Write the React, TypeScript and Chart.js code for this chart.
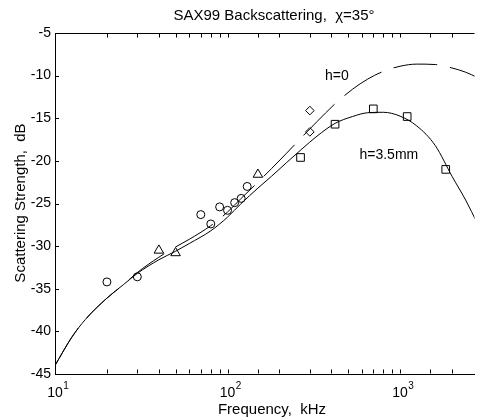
import { useEffect, useRef } from 'react';
import { Chart, registerables } from 'chart.js';

Chart.register(...registerables);

const FONT = "'Liberation Sans', Arial, sans-serif";

// model curves (frequency in kHz, scattering strength in dB)
const curveFreqs = [10, 12.5, 15, 20, 25, 30, 40, 50, 60, 80, 100, 120, 150, 180, 220, 270, 330, 420, 530, 650, 800, 1000, 1250, 1600, 2000, 2400, 2800];
const h35mm = [-44.0, -40.7, -38.6, -36.1, -34.5, -33.2, -31.6, -30.6, -29.7, -28.2, -26.6, -25.0, -23.2, -21.8, -20.2, -18.6, -17.1, -15.6, -14.8, -14.35, -14.3, -14.75, -15.9, -18.2, -21.8, -24.6, -27.3];
const h0 = [-44.0, -40.7, -38.6, -36.1, -34.5, -33.1, -31.3, -30.1, -29.2, -27.6, -26.0, -24.4, -22.5, -20.9, -19.1, -17.2, -15.4, -13.3, -11.6, -10.4, -9.5, -8.9, -8.65, -8.7, -9.1, -9.6, -10.2];

// measured data
const circleFreqs = [20, 30, 70, 80, 90, 100, 110, 120, 130];
const circleVals = [-34.2, -33.6, -26.3, -27.4, -25.4, -25.8, -24.9, -24.4, -23.0];
const triangleFreqs = [40, 50, 150];
const triangleVals = [-30.5, -30.8, -21.6];
const diamondFreqs = [300, 300];
const diamondVals = [-14.1, -16.6];
const squareFreqs = [265, 420, 700, 1100, 1840];
const squareVals = [-19.6, -15.7, -13.9, -14.8, -21.0];

// axis
const xMin = 10;
const xMax = 2701;
const yMin = -45;
const yMax = -5;
const xLabelTicks = [10, 100, 1000];
const xLabelExps = ['1', '2', '3'];

const titleText = 'SAX99 Backscattering,  \u03c7=35\u00b0';
const xTitle = 'Frequency,  kHz';
const yTitle = 'Scattering Strength,  dB';
const notes = [
  { text: 'h=0', x: 430, y: -10.1 },
  { text: 'h=3.5mm', x: 861, y: -19.3 },
];

const pts = (xs: number[], ys: number[]) => xs.map((x, i) => ({ x, y: ys[i] }));

const marker = (data: { x: number; y: number }[], style: string, r: number) => ({
  type: 'line' as const,
  data,
  showLine: false,
  pointStyle: style,
  pointRadius: r,
  pointHoverRadius: r,
  pointBorderColor: '#000',
  pointBackgroundColor: 'rgba(0,0,0,0)',
  pointBorderWidth: 1,
  borderColor: '#000',
});

const deco = {
  id: 'deco',
  afterDraw(chart: any) {
    const { ctx, chartArea: a, scales } = chart;
    const x = scales.x;
    const y = scales.y;
    ctx.save();
    ctx.strokeStyle = '#000';
    ctx.lineWidth = 1;
    ctx.beginPath();
    const top = Math.round(a.top) + 0.5;
    const bot = Math.round(a.bottom) - 0.5;
    ctx.moveTo(a.left, top);
    ctx.lineTo(a.right, top);
    const tl = 4;
    x.ticks.forEach((t: any) => {
      if (t.value >= xMax) return;
      const px = Math.round(x.getPixelForValue(t.value)) + 0.5;
      ctx.moveTo(px, bot);
      ctx.lineTo(px, bot - tl);
      ctx.moveTo(px, top);
      ctx.lineTo(px, top + tl);
    });
    y.ticks.forEach((t: any) => {
      const py = Math.round(y.getPixelForValue(t.value)) + 0.5;
      ctx.moveTo(a.left, py);
      ctx.lineTo(a.left + tl, py);
    });
    ctx.stroke();

    ctx.fillStyle = '#000';
    // x tick labels with superscript exponents
    xLabelTicks.forEach((v, i) => {
      const px = x.getPixelForValue(v);
      ctx.font = `14px ${FONT}`;
      ctx.textAlign = 'center';
      ctx.textBaseline = 'alphabetic';
      ctx.fillText('10', px, 397);
      const w = ctx.measureText('10').width;
      ctx.font = `10px ${FONT}`;
      ctx.textAlign = 'left';
      ctx.fillText(xLabelExps[i], px + w / 2 + 0.5, 389);
    });

    // titles
    ctx.font = `15px ${FONT}`;
    ctx.textAlign = 'center';
    ctx.textBaseline = 'middle';
    ctx.fillText(titleText, 274, 16);
    ctx.fillText(xTitle, 272, 410);
    ctx.save();
    ctx.translate(21, 203);
    ctx.rotate(-Math.PI / 2);
    ctx.fillText(yTitle, 0, 0);
    ctx.restore();

    // curve annotations
    ctx.font = `14px ${FONT}`;
    notes.forEach((n) => {
      ctx.fillText(n.text, x.getPixelForValue(n.x), y.getPixelForValue(n.y));
    });
    ctx.restore();
  },
};

export default function App() {
  const ref = useRef<HTMLCanvasElement>(null);
  useEffect(() => {
    const chart = new Chart(ref.current!, {
      type: 'line',
      data: {
        datasets: [
          marker(pts(circleFreqs, circleVals), 'circle', 4),
          marker(pts(triangleFreqs, triangleVals), 'triangle', 5.5),
          marker(pts(diamondFreqs, diamondVals), 'rectRot', 4.3),
          marker(pts(squareFreqs, squareVals), 'rect', 5.4),
          {
            type: 'line',
            data: pts(curveFreqs, h35mm),
            borderColor: '#000',
            borderWidth: 1,
            pointRadius: 0,
            cubicInterpolationMode: 'monotone',
            fill: false,
          },
          {
            type: 'line',
            data: pts(curveFreqs, h0),
            borderColor: '#000',
            borderWidth: 1,
            borderDash: [44, 13],
            borderDashOffset: 0,
            pointRadius: 0,
            cubicInterpolationMode: 'monotone',
            fill: false,
          },
        ] as any,
      },
      options: {
        responsive: false,
        animation: false,
        events: [],
        layout: { padding: { top: 33, right: 0, left: 0, bottom: 0 } },
        plugins: {
          legend: { display: false },
          tooltip: { enabled: false },
          title: { display: false },
        },
        scales: {
          x: {
            type: 'logarithmic',
            min: xMin,
            max: xMax,
            grid: { display: false, drawTicks: false },
            border: { display: true, color: '#000', width: 1 },
            ticks: { display: false },
            afterFit: (s: any) => {
              s.height = 46;
            },
          },
          y: {
            type: 'linear',
            min: yMin,
            max: yMax,
            grid: { display: false, drawTicks: false },
            border: { display: true, color: '#000', width: 1 },
            ticks: {
              stepSize: 5,
              color: '#000',
              padding: 4,
              font: { family: FONT, size: 14 },
            },
            afterFit: (s: any) => {
              s.width = 55;
            },
          },
        },
      } as any,
      plugins: [deco],
    });
    return () => chart.destroy();
  }, []);
  return (
    <canvas
      ref={ref}
      width={481}
      height={420}
      style={{ position: 'absolute', left: 0, top: 0, width: 481, height: 420 }}
    />
  );
}
